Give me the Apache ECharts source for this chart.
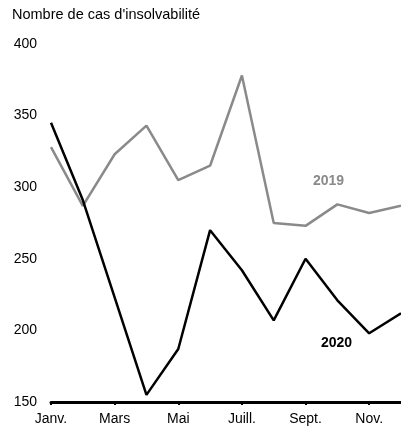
<!DOCTYPE html>
<html>
<head>
<meta charset="utf-8">
<script src="https://cdn.jsdelivr.net/npm/echarts@6/dist/echarts.min.js"></script>
<style>
html,body{margin:0;padding:0;background:#fff;}
#c{width:401px;height:426px;}
</style>
</head>
<body>
<div id="c"></div>
<script>
const months = ['Janv.', 'Févr.', 'Mars', 'Avril', 'Mai', 'Juin', 'Juill.', 'Août', 'Sept.', 'Oct.', 'Nov.', 'Déc.'];
const values2019 = [328, 287, 323, 343, 305, 315, 378, 275, 273, 288, 282, 287];
const values2020 = [345, 291, 223, 155, 187, 270, 242, 207, 250, 221, 198, 212];
const yTicks = [150, 200, 250, 300, 350, 400];
const titleText = "Nombre de cas d'insolvabilité";

const FONT = '"Liberation Sans", Arial, sans-serif';
const chart = echarts.init(document.getElementById('c'), null, {renderer: 'canvas'});
chart.setOption({
  animation: false,
  backgroundColor: '#fff',
  title: {
    text: titleText,
    left: 12, top: 7, padding: 0,
    textStyle: {fontFamily: FONT, fontSize: 14.5, fontWeight: 'normal', color: '#000'}
  },
  grid: {left: 51, top: 44, bottom: 23.5, right: -7.5, containLabel: false},
  xAxis: {
    type: 'category',
    data: months,
    boundaryGap: false,
    axisLine: {show: true, lineStyle: {color: '#000', width: 3}},
    axisTick: {show: true, interval: 1, length: 3, lineStyle: {color: '#000', width: 2}},
    axisLabel: {interval: 1, margin: 10, color: '#000', fontFamily: FONT, fontSize: 14},
    splitLine: {show: false}
  },
  yAxis: {
    type: 'value',
    min: yTicks[0], max: yTicks[yTicks.length - 1], interval: 50,
    axisLine: {show: false},
    axisTick: {show: false},
    splitLine: {show: false},
    axisLabel: {margin: 14, color: '#000', fontFamily: FONT, fontSize: 14}
  },
  series: [
    {
      name: '2019', type: 'line', data: values2019, symbol: 'none',
      lineStyle: {color: '#8a8a8a', width: 2.5}, z: 2
    },
    {
      name: '2020', type: 'line', data: values2020, symbol: 'none',
      lineStyle: {color: '#000', width: 2.5}, z: 3
    }
  ],
  graphic: [
    {type: 'text', left: 313, top: 174, style: {text: '2019', fill: '#8a8a8a', font: 'bold 14px ' + FONT}},
    {type: 'text', left: 321, top: 336, style: {text: '2020', fill: '#000', font: 'bold 14px ' + FONT}}
  ]
});
</script>
</body>
</html>
